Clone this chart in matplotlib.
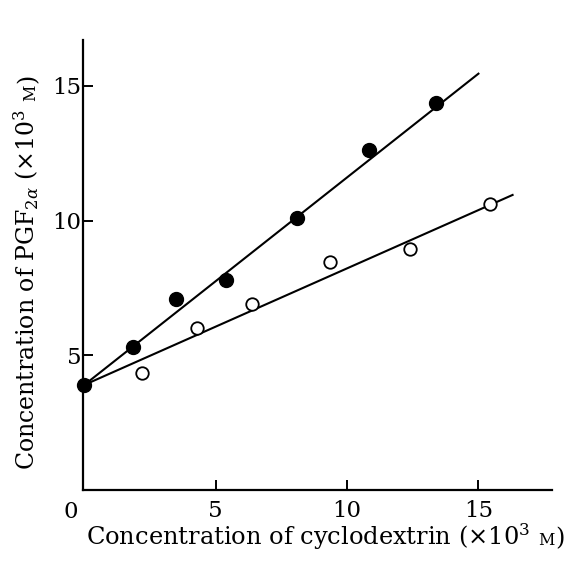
import matplotlib
matplotlib.use("Agg")
import matplotlib.pyplot as plt
from matplotlib.transforms import IdentityTransform, blended_transform_factory

plt.rcParams['font.family'] = 'DejaVu Serif'
plt.rcParams['mathtext.fontset'] = 'dejavuserif'

# filled circles
filled_x = [0, 1.85, 3.5, 5.4, 8.1, 10.85, 13.4]
filled_y = [3.9, 5.3, 7.1, 7.8, 10.1, 12.6, 14.35]
# open circles
open_x = [2.2, 4.3, 6.4, 9.35, 12.4, 15.45]
open_y = [4.35, 6.0, 6.9, 8.45, 8.95, 10.6]
# straight lines drawn through the points
fit_filled_x = [0, 15.0]
fit_filled_y = [3.9, 15.45]
fit_open_x = [0, 16.3]
fit_open_y = [3.9, 10.95]

ticks = [5, 10, 15]

fig = plt.figure(figsize=(5.7, 5.62), dpi=100)
ax = fig.add_axes([83 / 570, 1 - 490 / 562, (552 - 83) / 570, (490 - 40) / 562])
ax.set_xlim(-0.05, 17.8)
ax.set_ylim(0, 16.7)

ax.plot(fit_filled_x, fit_filled_y, color='black', lw=1.5, zorder=2)
ax.plot(fit_open_x, fit_open_y, color='black', lw=1.5, zorder=2)
ax.plot(filled_x, filled_y, 'o', ms=10, mfc='black', mec='black', zorder=3, clip_on=False)
ax.plot(open_x, open_y, 'o', ms=9, mfc='white', mec='black', mew=1.3, zorder=3)

for s in ['top', 'right']:
    ax.spines[s].set_visible(False)
for s in ['left', 'bottom']:
    ax.spines[s].set_linewidth(1.6)

ax.set_xticks(ticks)
ax.set_yticks(ticks)
ax.tick_params(direction='in', length=7, width=1.4, labelsize=16.5)
ax.tick_params(axis='x', pad=7)
ax.tick_params(axis='y', pad=1)
trans = blended_transform_factory(ax.transData, ax.transAxes)
ax.text(-0.53, -0.024, '0', transform=trans, ha='center', va='top', fontsize=16.5)


def rich_label(x, y, pieces, rotation=0):
    # pieces: (text, size, gap before in px); x, y in pixels, y measured from bottom
    r = fig.canvas.get_renderer()
    widths = []
    for s, size, gap in pieces:
        t = fig.text(0, 0, s, fontsize=size)
        widths.append(t.get_window_extent(r).width + gap)
        t.remove()
    total = sum(widths)
    pos = (x if rotation == 0 else y) - total / 2
    for (s, size, gap), w in zip(pieces, widths):
        pos += gap
        xy = (pos, y) if rotation == 0 else (x, pos)
        fig.text(xy[0], xy[1], s, fontsize=size, transform=IdentityTransform(),
                 rotation=rotation, rotation_mode='anchor', ha='left', va='baseline')
        pos += w - gap


rich_label(325, 17, [("Concentration of cyclodextrin (×10$^3$", 17.4, 0),
                     ("M", 11.5, 8), (")", 17.4, 1)])
rich_label(35, 290, [("Concentration of PGF$_{2\\alpha}$ (×10$^3$", 17, 0),
                     ("M", 11.5, 8), (")", 17, 1)], rotation=90)

fig.savefig("out.png", dpi=100)
